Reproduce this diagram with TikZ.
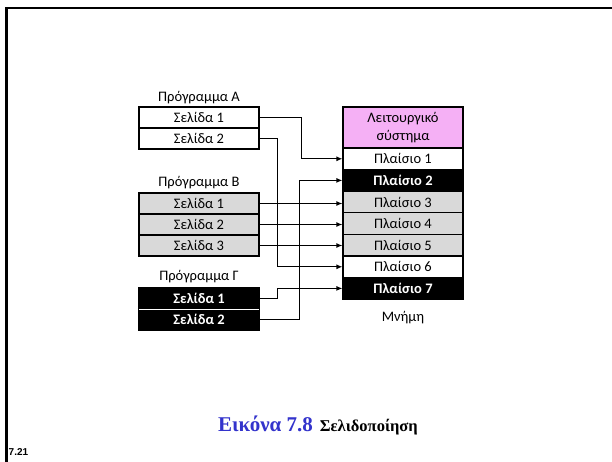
\documentclass[tikz,border=0pt]{standalone}
\usepackage{fontspec}
\setmainfont{Carlito}
\newfontfamily\capfont{Liberation Serif}
\newfontfamily\numfont{Liberation Sans}
\usetikzlibrary{arrows.meta}
\definecolor{pagegray}{RGB}{217,217,217}
\definecolor{ospink}{RGB}{245,176,245}
\definecolor{capblue}{RGB}{51,51,204}
\tikzset{
  pagebox/.style={draw=black, line width=1.1pt, minimum width=120pt, minimum height=21pt,
    inner sep=0pt, font=\fontsize{14.5}{16}\selectfont},
  framebox/.style={pagebox, minimum height=21.6pt},
  darkbox/.style={fill=black, text=white, font=\fontsize{14.5}{16}\selectfont\bfseries},
  greybox/.style={fill=pagegray},
  progtitle/.style={font=\fontsize{14.5}{16}\selectfont, inner sep=0pt},
  link/.style={line width=1.3pt, -{Latex[length=6pt,width=5pt]}}
}
\begin{document}
\begin{tikzpicture}[x=1pt,y=-1pt]
\useasboundingbox (0,0) rectangle (612,462);
\fill[white] (0,0) rectangle (612,462);
% page frame
\draw[line width=2.3pt] (6.5,462) -- (6.5,8) -- (612,8);

% program A
\node[progtitle] (tA) at (199,98) {Πρόγραμμα Α};
\node[pagebox] (A1) at (199,117.5) {Σελίδα 1};
\node[pagebox] (A2) at (199,138.5) {Σελίδα 2};

% program B
\node[progtitle] (tB) at (199,183) {Πρόγραμμα Β};
\node[pagebox, greybox] (B1) at (199,203.5) {Σελίδα 1};
\node[pagebox, greybox] (B2) at (199,224.5) {Σελίδα 2};
\node[pagebox, greybox] (B3) at (199,245.5) {Σελίδα 3};

% program Gamma
\node[progtitle] (tG) at (199,277) {Πρόγραμμα Γ};
\node[pagebox, darkbox] (G1) at (199,298.5) {Σελίδα 1};
\node[pagebox, darkbox] (G2) at (199,319.5) {Σελίδα 2};
\draw[white, line width=0.8pt] ([xshift=0.6pt]G1.south west) -- ([xshift=-0.6pt]G1.south east);

% memory
\node[pagebox, fill=ospink, minimum height=41pt, align=center,
      font=\fontsize{14.5}{18}\selectfont] (OS) at (403,127.5) {Λειτουργικό\\σύστημα};
\node[framebox] (F1) at (403,158.8) {Πλαίσιο 1};
\node[framebox, darkbox] (F2) at (403,180.4) {Πλαίσιο 2};
\node[framebox, greybox] (F3) at (403,202.0) {Πλαίσιο 3};
\node[framebox, greybox] (F4) at (403,223.6) {Πλαίσιο 4};
\node[framebox, greybox] (F5) at (403,245.2) {Πλαίσιο 5};
\node[framebox] (F6) at (403,266.8) {Πλαίσιο 6};
\node[framebox, darkbox] (F7) at (403,288.4) {Πλαίσιο 7};
\node[progtitle] (mem) at (403,318) {Μνήμη};

% page table mappings
\draw[link] (A1.east) -- ++(42,0) |- (F1.west);
\draw[link] (A2.east) -- ++(18,0) |- (F6.west);
\draw[link] (B1.east) -- (B1.east -| F3.west);
\draw[link] (B2.east) -- (B2.east -| F4.west);
\draw[link] (B3.east) -- (B3.east -| F5.west);
\draw[link] (G1.east) -- ++(18,0) |- (F7.west);
\draw[link] (G2.east) -- ++(40,0) |- (F2.west);

% caption
\node (cap) at (318,425) {\capfont\bfseries{\color{capblue}\fontsize{21}{24}\selectfont Εικόνα 7.8}\hspace{7pt}{\fontsize{16.5}{19}\selectfont Σελιδοποίηση}};
\node[anchor=west, inner sep=0pt] (num) at (8.5,452) {\numfont\bfseries\fontsize{10}{12}\selectfont 7.21};
\end{tikzpicture}
\end{document}
